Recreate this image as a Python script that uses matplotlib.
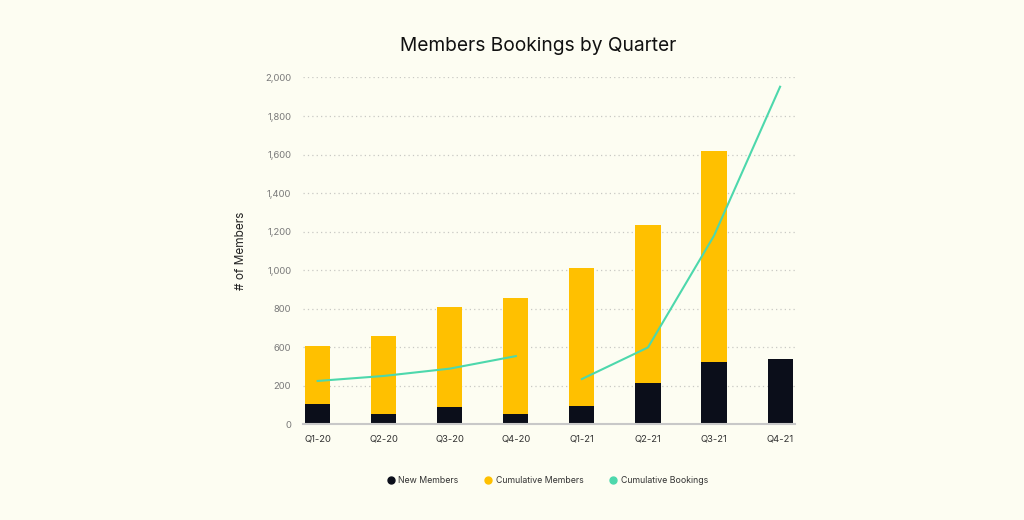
import numpy as np
import matplotlib

matplotlib.use("Agg")

import matplotlib.pyplot as plt

quarters = ["Q1-20", "Q2-20", "Q3-20", "Q4-20", "Q1-21", "Q2-21", "Q3-21", "Q4-21"]
new_members = [105, 52, 88, 52, 97, 226, 444, 474]
cumulative_members = [606, 660, 810, 857, 1011, 1234, 1621, np.nan]
cumulative_bookings = [250, 302, 378, 508, 270, 598, 1179, 1952]

# the y labels in the reference skip 400, so the axis is piecewise linear
y_ticks = [0, 200, 600, 800, 1000, 1200, 1400, 1600, 1800, 2000]

BG = "#fdfdf2"
YELLOW = "#ffc000"
DARK = "#0b0e1a"
TEAL = "#4dd8ac"

plt.rcParams["font.family"] = ["Inter", "DejaVu Sans"]

_val = [-5000, 0, 200, 600, 2000, 8000]
_pos = [-5000, 0, 200, 400, 1800, 7800]


def forward(v):
    return np.interp(v, _val, _pos)


def inverse(p):
    return np.interp(p, _pos, _val)


fig = plt.figure(figsize=(10.24, 5.2), dpi=100, facecolor=BG)
ax = fig.add_axes([0.296, 0.184, 0.480, 0.667])
ax.set_facecolor(BG)
ax.set_yscale("function", functions=(forward, inverse))

x = np.arange(len(quarters))
width = 0.38
ax.bar(x, cumulative_members, width, color=YELLOW, zorder=2, label="Cumulative Members")
ax.bar(x, new_members, width, color=DARK, zorder=3, label="New Members")
ax.plot(x[:4], cumulative_bookings[:4], color=TEAL, lw=1.5, zorder=4)
ax.plot(x[4:], cumulative_bookings[4:], color=TEAL, lw=1.5, zorder=4)

ax.set_ylim(0, 2000)
ax.set_xlim(-0.22, 7.22)
ax.set_yticks(y_ticks)
ax.set_yticklabels([f"{t:,}" for t in y_ticks])
ax.set_xticks(x)
ax.set_xticklabels(quarters)
ax.tick_params(axis="y", length=0, pad=8.5, labelsize=6.8, labelcolor="#7a7a7a")
ax.tick_params(axis="x", length=0, pad=7, labelsize=6.8, labelcolor="#333333")
ax.yaxis.grid(True, color="#c9c9c4", linestyle=(0, (1, 2.5)), linewidth=0.9, zorder=0)
for side in ["top", "right", "left"]:
    ax.spines[side].set_visible(False)
ax.spines["bottom"].set_color("#c8c8c8")
ax.spines["bottom"].set_linewidth(1.5)
ax.spines["bottom"].set_zorder(5)

ax.set_ylabel("# of Members", fontsize=8.5, color="#222222", labelpad=13)
fig.text(0.526, 0.911, "Members Bookings by Quarter", ha="center", va="center",
         fontsize=13.8, color="#111111")

handles = [
    plt.Line2D([], [], marker="o", ls="", color=DARK, markersize=5),
    plt.Line2D([], [], marker="o", ls="", color=YELLOW, markersize=5),
    plt.Line2D([], [], marker="o", ls="", color=TEAL, markersize=5),
]
fig.legend(handles, ["New Members", "Cumulative Members", "Cumulative Bookings"],
           loc="center", bbox_to_anchor=(0.535, 0.076), ncol=3, frameon=False,
           fontsize=6.3, labelcolor="#333333", handlelength=0.8, handletextpad=0.45,
           columnspacing=3.0)

fig.savefig("out.png", dpi=100, facecolor=BG)
